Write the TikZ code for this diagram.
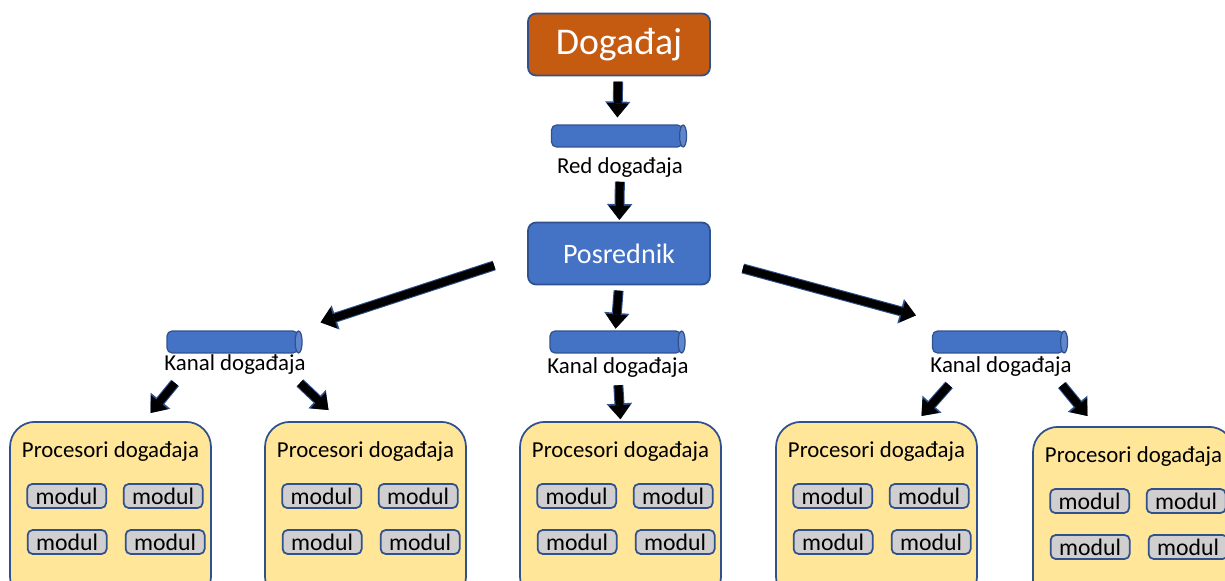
\documentclass[tikz,border=0pt]{standalone}
\usepackage{fontspec}
\setmainfont{Carlito}
\usetikzlibrary{arrows.meta,positioning}
\definecolor{evorange}{HTML}{C55A11}
\definecolor{evblue}{HTML}{4472C4}
\definecolor{evborder}{HTML}{2F528F}
\definecolor{evyellow}{HTML}{FFE699}
\definecolor{evgray}{HTML}{D0CECE}

\begin{document}
\begin{tikzpicture}[x=0.02cm,y=-0.02cm,
		topbox/.style={draw=evborder,line width=1pt,rounded corners=0.16cm,minimum width=3.64cm,minimum height=1.24cm,text=white},
		queue/.style={draw=evborder,line width=0.7pt,fill=evblue,rounded corners=0.1cm,minimum width=2.62cm,minimum height=0.44cm,inner sep=0pt},
		queueend/.style={draw=evborder,line width=0.7pt,fill=evblue!85},
		lbl/.style={font=\fontsize{13}{15}\selectfont,inner sep=1pt},
		procbox/.style={draw=evborder,line width=1pt,fill=evyellow,rounded corners=0.5cm,minimum width=4.02cm,minimum height=3.6cm,anchor=north},
		modbox/.style={draw=evborder,line width=1pt,fill=evgray,rounded corners=0.1cm,minimum width=1.58cm,minimum height=0.48cm,inner sep=0pt,font=\fontsize{13.5}{15}\selectfont},
		bigarrow/.style={line width=4.5pt,-{Triangle[length=8pt,width=12.5pt,line width=0pt]},
			preaction={draw=evborder,line width=5.7pt,-{Triangle[length=9pt,width=14.5pt,line width=0pt]}}}]
	\useasboundingbox (0,0) rectangle (1225,581);
	\clip (0,0) rectangle (1225,581);

	\node[topbox,fill=evorange,font=\fontsize{21.5}{24}\selectfont] (dog) at (619,44.5) {Događaj};
	\node[queue] (red) at (617,136) {};
	\node[lbl] (redl) at (620,168) {Red događaja};
	\node[topbox,fill=evblue,font=\fontsize{16}{19}\selectfont] (pos) at (619,253.5) {Posrednik};

	\node[queue] (k1) at (232.5,342) {};
	\node[queue] (k2) at (615.5,342) {};
	\node[queue] (k3) at (998,342) {};
	\foreach \q in {red,k1,k2,k3}
		\draw[queueend] (\q.east) ellipse (0.07cm and 0.22cm);
	\node[lbl] (k1l) at (235,365) {Kanal događaja};
	\node[lbl] (k2l) at (618,368) {Kanal događaja};
	\node[lbl] (k3l) at (1001,367) {Kanal događaja};

	\foreach \i/\cx/\ty in {1/110.5/421,2/365.5/421,3/620.5/421,4/876.5/421,5/1133.5/426}{
		\node[procbox] (p\i) at (\cx,\ty) {};
		\node[lbl] (p\i-t) at ([shift={(0,30.5)}]p\i.north) {Procesori događaja};
		\node[modbox] (p\i-a) at ([shift={(57.5,75)}]p\i.north west) {modul};
		\node[modbox] (p\i-b) at ([shift={(154,75)}]p\i.north west) {modul};
		\node[modbox] (p\i-c) at ([shift={(58,121)}]p\i.north west) {modul};
		\node[modbox] (p\i-d) at ([shift={(156,121)}]p\i.north west) {modul};
	}

	\draw[bigarrow,shorten <=3pt,shorten >=4pt] (dog) -- (red);
	\draw[bigarrow,shorten <=1pt,shorten >=1pt] (redl) -- (pos);
	\draw[bigarrow] ([shift={(-33,12)}]pos.west) -- ([shift={(22,-8)}]k1.north east);
	\draw[bigarrow,shorten <=3pt,shorten >=1pt] (pos.south) -- (k2.north);
	\draw[bigarrow] ([shift={(32,15)}]pos.east) -- ([shift={(-16,-15)}]k3.north west);
	\draw[bigarrow] ([shift={(-60,6)}]k1l.south) -- ([shift={(40,-8)}]p1.north);
	\draw[bigarrow] ([shift={(65,6)}]k1l.south) -- ([shift={(-37,-11)}]p2.north);
	\draw[bigarrow,shorten <=3pt,shorten >=1pt] (k2l.south) -- (p3.north);
	\draw[bigarrow] ([shift={(-52,6)}]k3l.south) -- ([shift={(45,-5)}]p4.north);
	\draw[bigarrow] ([shift={(61,6)}]k3l.south) -- ([shift={(-46,-10)}]p5.north);
\end{tikzpicture}
\end{document}
